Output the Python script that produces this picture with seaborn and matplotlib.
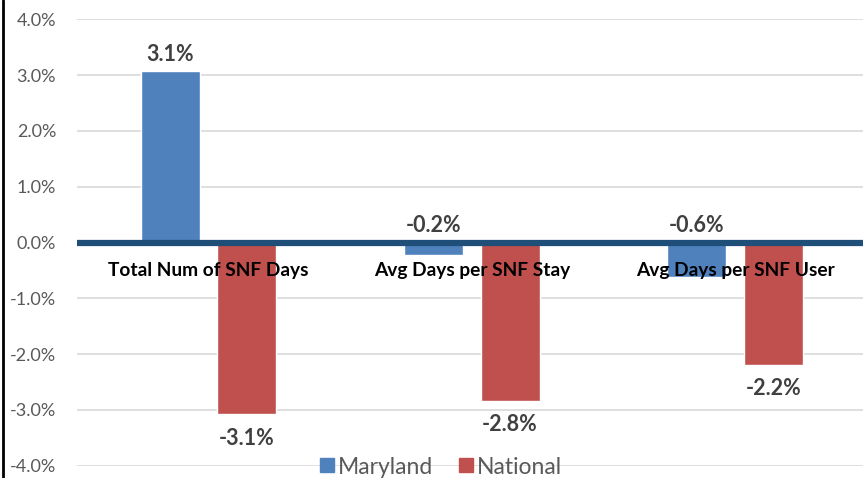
import matplotlib
matplotlib.use("Agg")
import matplotlib.pyplot as plt
import matplotlib.lines as mlines
import seaborn as sns
import pandas as pd

categories = ["Total Num of SNF Days", "Avg Days per SNF Stay", "Avg Days per SNF User"]
series_names = ["Maryland", "National"]
maryland = [3.07, -0.23, -0.61]
national = [-3.08, -2.84, -2.19]
y_ticks = [-4, -3, -2, -1, 0, 1, 2, 3, 4]

df = pd.DataFrame({
    "category": categories * 2,
    "region": [series_names[0]] * 3 + [series_names[1]] * 3,
    "value": maryland + national,
})

sns.set_theme(style="white")
plt.rcParams["font.family"] = ["Lato", "DejaVu Sans"]

W, H = 863, 478
fig = plt.figure(figsize=(W / 100, H / 100), dpi=100)
left_px, right_px = 77, 866.6
top_px, bottom_px = 19.3, 465.7
ax = fig.add_axes([left_px / W, (H - bottom_px) / H,
                   (right_px - left_px) / W, (bottom_px - top_px) / H])

palette = {"Maryland": "#4F81BD", "National": "#C0504D"}
sns.barplot(data=df, x="category", y="value", hue="region", order=categories,
            hue_order=series_names, palette=palette, width=0.582, gap=0.23,
            saturation=1, ax=ax, legend=False, zorder=2)

ax.set_xlim(-0.5, 2.5)
ax.set_ylim(-4, 4)
ax.set_yticks(y_ticks)
ax.set_yticklabels([f"{t:.1f}%" for t in y_ticks], color="#595959", fontsize=13)
ax.tick_params(axis="y", length=0, pad=15)
ax.set_xticks([])
ax.set_xlabel("")
ax.set_ylabel("")
for s in ax.spines.values():
    s.set_visible(False)
ax.yaxis.grid(True, color="#D9D9D9", linewidth=1.2, zorder=0)
ax.set_axisbelow(True)

# thick zero baseline
ax.axhline(0, color="#1F4E79", linewidth=4.5, zorder=3)

# category names sit just under the baseline
for i, c in enumerate(categories):
    ax.text(i, -0.5, c, ha="center", va="center", fontsize=13.8,
            fontweight="bold", color="black", zorder=4)

# value labels
px_per_unit = (bottom_px - top_px) / 8
for i, v in enumerate(maryland):
    y = (v if v > 0 else 0) + 17 / px_per_unit
    ax.text(i - 0.1455, y, f"{v:.1f}%", ha="center", va="center", fontsize=15.5,
            fontweight="bold", color="#404040", zorder=4)
for i, v in enumerate(national):
    y = v - 24 / px_per_unit
    ax.text(i + 0.1455, y, f"{v:.1f}%", ha="center", va="center", fontsize=15.5,
            fontweight="bold", color="#404040", zorder=4)

handles = [mlines.Line2D([], [], marker="s", linestyle="none", markersize=10,
                         color=palette[n]) for n in series_names]
fig.legend(handles, series_names, loc="center", bbox_to_anchor=(440 / W, 1 - 467 / H),
           ncol=2, frameon=False, fontsize=16.5, labelcolor="#595959",
           handletextpad=0.1, columnspacing=1.0, handlelength=0.8)

# chart border on the left edge
fig.add_artist(mlines.Line2D([3 / W, 3 / W], [0, 1], color="black", linewidth=2,
                             transform=fig.transFigure))

fig.savefig("out.png", dpi=100)
